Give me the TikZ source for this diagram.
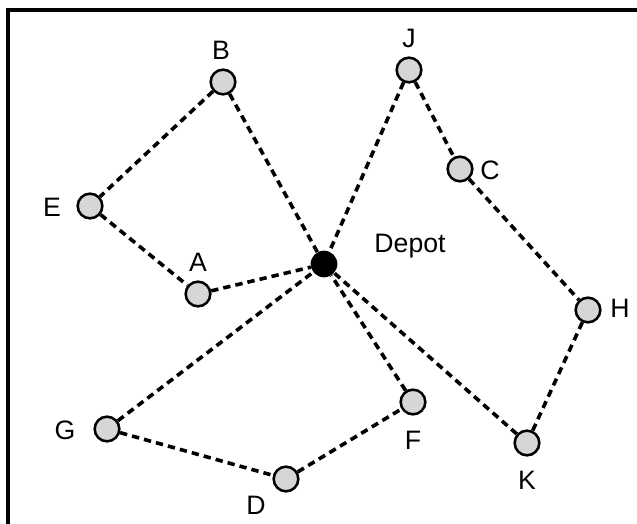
\documentclass[tikz,border=0pt]{standalone}
\usepackage{fontspec}
\setmainfont{Liberation Sans}
\begin{document}
\begin{tikzpicture}[x=0.75pt,y=-0.75pt,
  cust/.style={circle,draw=black,line width=1.9pt,fill=gray!32,minimum size=18.5pt,inner sep=0pt},
  depot/.style={circle,fill=black,minimum size=20pt,inner sep=0pt},
  route/.style={line width=2.7pt,dash pattern=on 5.5pt off 3.8pt},
  lbl/.style={font=\fontsize{20pt}{24pt}\selectfont,inner sep=0pt}]
\useasboundingbox (0,0) rectangle (637,524);
\draw[line width=2.4pt] (8,540) -- (8,10) -- (650,10);
\node[depot] (dep) at (324,264) {};
\node[cust] (B) at (223,82) {};
\node[cust] (J) at (409,70) {};
\node[cust] (E) at (90,206) {};
\node[cust] (C) at (460,169) {};
\node[cust] (A) at (198,294) {};
\node[cust] (H) at (588,310) {};
\node[cust] (G) at (107,429) {};
\node[cust] (F) at (413,402) {};
\node[cust] (K) at (527,443) {};
\node[cust] (D) at (286,479) {};
\node[lbl] (lB) at (221,50) {B};
\node[lbl] (lJ) at (409,38) {J};
\node[lbl] (lE) at (52,207) {E};
\node[lbl] (lC) at (490,170) {C};
\node[lbl] (lA) at (198,262) {A};
\node[lbl] (ldep) at (410,246) {Depot};
\node[lbl] (lH) at (620,308) {H};
\node[lbl] (lG) at (65,430) {G};
\node[lbl] (lF) at (413,440) {F};
\node[lbl] (lK) at (527,480) {K};
\node[lbl] (lD) at (256,505) {D};
\draw[route] (B) -- (E);
\draw[route] (E) -- (A);
\draw[route] (A) -- (dep);
\draw[route] (B) -- (dep);
\draw[route] (J) -- (dep);
\draw[route] (J) -- (C);
\draw[route] (C) -- (H);
\draw[route] (H) -- (K);
\draw[route] (K) -- (dep);
\draw[route] (F) -- (dep);
\draw[route] (G) -- (dep);
\draw[route] (G) -- (D);
\draw[route] (D) -- (F);
\end{tikzpicture}
\end{document}
